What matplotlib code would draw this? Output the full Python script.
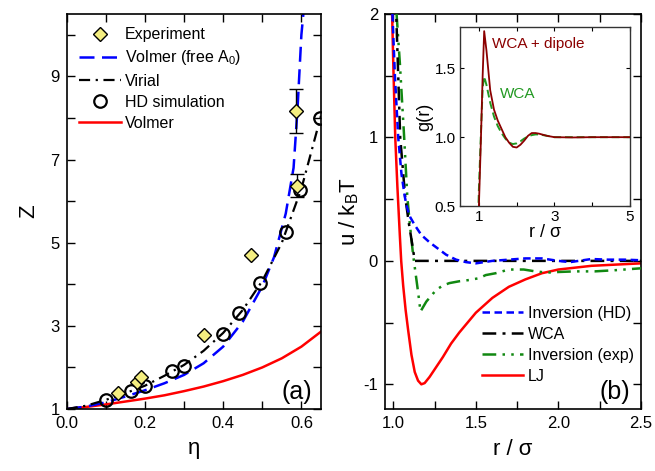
import numpy as np
import matplotlib
matplotlib.use('Agg')
import matplotlib.pyplot as plt
from matplotlib.ticker import MultipleLocator, FixedLocator

plt.rcParams['font.family'] = ['Liberation Sans', 'DejaVu Sans']
plt.rcParams['mathtext.fontset'] = 'custom'
plt.rcParams['mathtext.rm'] = 'Liberation Sans'
plt.rcParams['mathtext.it'] = 'Liberation Sans:italic'
plt.rcParams['axes.unicode_minus'] = False

# ---- panel (a): compressibility factor ----
eta_hd = [0.10, 0.164, 0.20, 0.27, 0.30, 0.40, 0.44, 0.495, 0.56, 0.596, 0.648]
z_hd = [1.22, 1.44, 1.55, 1.91, 2.04, 2.80, 3.30, 4.04, 5.25, 6.26, 8.00]

eta_exp = [0.13, 0.18, 0.19, 0.35, 0.47, 0.59, 0.585]
z_exp = [1.39, 1.64, 1.78, 2.78, 4.70, 6.37, 8.16]
eta_err = [0.59, 0.585]
z_err = [6.37, 8.16]
err = [0.27, 0.53]

eta_vir = [0.0, 0.05, 0.10, 0.15, 0.20, 0.25, 0.30, 0.35, 0.40, 0.45, 0.50, 0.55, 0.60, 0.65]
z_vir = [1.0, 1.08, 1.22, 1.38, 1.56, 1.80, 2.06, 2.40, 2.83, 3.38, 4.08, 5.00, 6.30, 8.05]

eta_vf = [0.0, 0.05, 0.10, 0.15, 0.20, 0.25, 0.30, 0.35, 0.40, 0.45, 0.50, 0.53, 0.56, 0.58, 0.59, 0.60, 0.606]
z_vf = [1.0, 1.06, 1.16, 1.30, 1.45, 1.62, 1.82, 2.10, 2.50, 3.10, 3.95, 4.65, 5.70, 6.80, 8.20, 10.0, 10.6]

eta_vol = [0.0, 0.05, 0.10, 0.15, 0.20, 0.25, 0.30, 0.35, 0.40, 0.45, 0.50, 0.55, 0.60, 0.65]
z_vol = [1.0, 1.05, 1.11, 1.18, 1.25, 1.33, 1.43, 1.54, 1.67, 1.82, 2.0, 2.22, 2.5, 2.86]

# ---- panel (b): pair potentials ----
r_lj = [0.993, 1.0, 1.012, 1.025, 1.04, 1.048, 1.06, 1.075, 1.09, 1.11, 1.13, 1.15, 1.17,
        1.19, 1.22, 1.26, 1.30, 1.35, 1.40, 1.45, 1.50, 1.60, 1.70, 1.80, 1.90, 2.0, 2.2, 2.5]
u_lj = [2.0, 1.6, 1.0, 0.6, 0.2, 0.0, -0.2, -0.4, -0.56, -0.76, -0.9, -0.97, -1.0,
        -0.99, -0.94, -0.86, -0.78, -0.67, -0.58, -0.50, -0.42, -0.30, -0.21, -0.15, -0.10, -0.07, -0.04, -0.02]

r_wca = [1.0, 1.018, 1.042, 1.072, 1.095, 1.113, 1.13, 2.5]
u_wca = [2.2, 2.0, 1.0, 0.52, 0.3, 0.15, 0.0, 0.0]

r_hd = [0.995, 1.01, 1.03, 1.05, 1.07, 1.08, 1.10, 1.13, 1.17, 1.22, 1.27, 1.32, 1.38, 1.44, 1.50,
        1.60, 1.70, 1.80, 1.90, 2.0, 2.07, 2.2, 2.3, 2.4, 2.5]
u_hd = [2.0, 1.5, 1.0, 0.7, 0.52, 0.45, 0.36, 0.29, 0.21, 0.15, 0.10, 0.05, 0.01, -0.01, -0.02,
        0.0, 0.01, 0.02, 0.02, 0.0, -0.01, 0.015, 0.01, 0.01, 0.005]

r_ex = [1.02, 1.04, 1.066, 1.085, 1.10, 1.12, 1.135, 1.15, 1.165, 1.20, 1.26, 1.30, 1.34, 1.40,
        1.46, 1.52, 1.56, 1.62, 1.70, 1.79, 1.86, 1.93, 2.0, 2.1, 2.22, 2.35, 2.5]
u_ex = [2.0, 1.6, 1.0, 0.52, 0.3, 0.05, -0.1, -0.25, -0.41, -0.33, -0.235, -0.2, -0.18, -0.165,
        -0.155, -0.14, -0.115, -0.1, -0.07, -0.07, -0.085, -0.095, -0.09, -0.085, -0.085, -0.075, -0.06]

# ---- inset: g(r) ----
r_g = [0.95, 1.0, 1.05, 1.10, 1.14, 1.20, 1.30, 1.40, 1.50, 1.60, 1.70, 1.80, 1.90, 2.0,
       2.1, 2.2, 2.3, 2.4, 2.5, 2.6, 2.8, 3.0, 3.5, 4.0, 4.5, 5.0]
g_dip = [0.0, 0.5, 0.95, 1.45, 1.77, 1.63, 1.34, 1.20, 1.12, 1.06, 1.0, 0.96, 0.93, 0.925,
         0.945, 0.975, 1.01, 1.03, 1.03, 1.025, 1.01, 1.0, 0.998, 1.0, 1.0, 1.0]
g_wca = [0.1, 0.62, 1.0, 1.36, 1.44, 1.38, 1.25, 1.15, 1.08, 1.03, 0.99, 0.96, 0.95, 0.955,
         0.97, 0.99, 1.005, 1.015, 1.02, 1.02, 1.01, 1.0, 1.0, 1.0, 1.0, 1.0]

fig = plt.figure(figsize=(6.55, 4.71), dpi=100)
ax1 = fig.add_axes([0.1018, 0.1316, 0.3882, 0.8387])
ax2 = fig.add_axes([0.5878, 0.1316, 0.3908, 0.8387])

for ax in (ax1, ax2):
    ax.tick_params(which='both', direction='in', top=True, right=True, labelsize=12, pad=5)
    ax.tick_params(which='major', length=6, width=1)
    ax.tick_params(which='minor', length=6, width=1)
    for s in ax.spines.values():
        s.set_linewidth(1.2)

# panel (a)
ax1.plot(eta_vol, z_vol, color='red', lw=1.8, label='Volmer', zorder=2)
ax1.plot(eta_vf, z_vf, color='#0000ff', lw=1.8, dashes=(6, 3), label='Volmer (free A$_0$)', zorder=2)
ax1.plot(eta_vir, z_vir, color='black', lw=1.6, dashes=(5, 2.5, 1, 2.5), label='Virial', zorder=3)
ax1.plot(eta_hd, z_hd, 'o', ms=9, mfc='none', mec='black', mew=1.6, label='HD simulation', zorder=4)
ax1.errorbar(eta_err, z_err, yerr=err, fmt='none', ecolor='black', elinewidth=1, capsize=5, capthick=1, zorder=4)
ax1.plot(eta_exp, z_exp, 'D', ms=7, mfc='#f4ee80', mec='black', mew=1, label='Experiment', zorder=5)

ax1.set_xlim(0, 0.65)
ax1.set_ylim(1, 10.5)
ax1.xaxis.set_major_locator(FixedLocator([0.0, 0.2, 0.4, 0.6]))
ax1.xaxis.set_minor_locator(FixedLocator([0.1, 0.3, 0.5]))
ax1.set_xticklabels(['0.0', '0.2', '0.4', '0.6'])
ax1.yaxis.set_major_locator(FixedLocator([1, 3, 5, 7, 9]))
ax1.yaxis.set_minor_locator(FixedLocator([2, 4, 6, 8, 10]))
ax1.set_xlabel('η', fontsize=16, labelpad=5)
ax1.set_ylabel('Z', fontsize=16, labelpad=8)
ax1.text(0.906, 0.044, '(a)', transform=ax1.transAxes, fontsize=18, ha='center', va='center')

h, l = ax1.get_legend_handles_labels()
order = [l.index(k) for k in ['Experiment', 'Volmer (free A$_0$)', 'Virial', 'HD simulation', 'Volmer']]
ax1.legend([h[i] for i in order], [l[i] for i in order], loc='upper left',
           bbox_to_anchor=(0.05, 0.966), borderaxespad=0, borderpad=0, frameon=False,
           fontsize=11.5, handlelength=2.6, handletextpad=0.25, labelspacing=0.38)

# panel (b)
l1, = ax2.plot(r_lj, u_lj, color='red', lw=1.8, label='LJ', zorder=2)
l2, = ax2.plot(r_ex, u_ex, color='#118811', lw=1.8, dashes=(5.5, 2.5, 1, 2.5, 1, 2.5), label='Inversion (exp)', zorder=3)
l3, = ax2.plot(r_wca, u_wca, color='black', lw=1.8, dashes=(5.5, 2.5, 1.2, 2.5), label='WCA', zorder=4)
l4, = ax2.plot(r_hd, u_hd, color='#0000ff', lw=1.8, dashes=(3, 1.8), label='Inversion (HD)', zorder=5)

ax2.set_xlim(0.95, 2.5)
ax2.set_ylim(-1.2, 2)
ax2.xaxis.set_major_locator(FixedLocator([1.0, 1.5, 2.0, 2.5]))
ax2.xaxis.set_minor_locator(FixedLocator([1.25, 1.75, 2.25]))
ax2.set_xticklabels(['1.0', '1.5', '2.0', '2.5'])
ax2.yaxis.set_major_locator(FixedLocator([-1, 0, 1, 2]))
ax2.yaxis.set_minor_locator(FixedLocator([-0.5, 0.5, 1.5]))
ax2.set_yticklabels(['-1', '0', '1', '2'])
ax2.set_xlabel('r / σ', fontsize=16, labelpad=6)
ax2.set_ylabel('u / k$_\\mathrm{B}$T', fontsize=16, labelpad=2)
ax2.text(0.898, 0.044, '(b)', transform=ax2.transAxes, fontsize=18, ha='center', va='center')
ax2.legend([l4, l3, l2, l1], ['Inversion (HD)', 'WCA', 'Inversion (exp)', 'LJ'], loc='upper left',
           bbox_to_anchor=(0.378, 0.262), borderaxespad=0, borderpad=0, frameon=False,
           fontsize=11.5, handlelength=2.6, handletextpad=0.3, labelspacing=0.38)

# inset
ax3 = fig.add_axes([0.7023, 0.5626, 0.2595, 0.380])
ax3.plot(r_g, g_wca, color='#229922', lw=1.4, dashes=(4, 2), zorder=2)
ax3.plot(r_g, g_dip, color='#8b0000', lw=1.3, zorder=3)
ax3.set_xlim(0.5, 5)
ax3.set_ylim(0.5, 1.8)
ax3.xaxis.set_major_locator(FixedLocator([1, 3, 5]))
ax3.xaxis.set_minor_locator(FixedLocator([2, 4]))
ax3.yaxis.set_major_locator(FixedLocator([0.5, 1.0, 1.5]))
ax3.set_yticklabels(['0.5', '1.0', '1.5'])
ax3.tick_params(which='both', direction='in', top=True, right=True, labelsize=11, pad=3, length=3, width=0.8)
for s in ax3.spines.values():
    s.set_linewidth(1.0)
    s.set_color('#333333')
ax3.set_xlabel('r / σ', fontsize=13, labelpad=0)
ax3.set_ylabel('g(r)', fontsize=13, labelpad=1)
ax3.text(1.34, 1.674, 'WCA + dipole', color='#8b0000', fontsize=11, va='center')
ax3.text(1.56, 1.31, 'WCA', color='#229922', fontsize=11, va='center')

fig.savefig('out.png', dpi=100)
